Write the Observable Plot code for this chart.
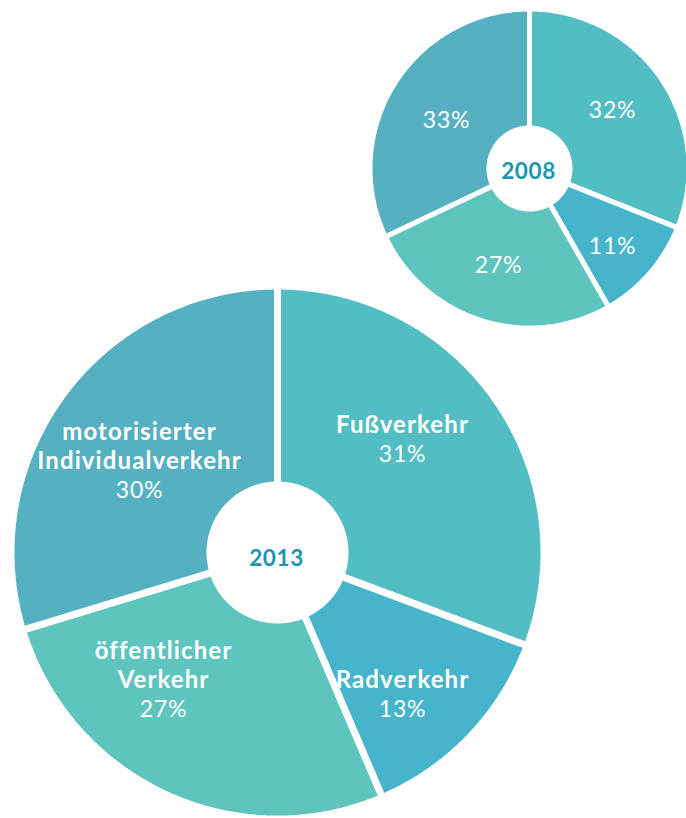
<!DOCTYPE html>
<html>
<head>
<meta charset="utf-8">
<script src="https://cdn.jsdelivr.net/npm/d3@7"></script>
<script src="https://cdn.jsdelivr.net/npm/@observablehq/plot@0.6"></script>
<style>
  html, body { margin: 0; padding: 0; background: #fff; }
  #chart svg { display: block; }
</style>
</head>
<body>
<div id="chart"></div>
<script>
// ---- data ----
const categories = ["Fußverkehr", "Radverkehr", "öffentlicher Verkehr", "motorisierter Individualverkehr"];
const labelNames = ["Fußverkehr", "Radverkehr", "öffentlicher\nVerkehr", "motorisierter\nIndividualverkehr"];
const years = ["2008", "2013"];
const values2008 = [32, 11, 27, 33];
const values2013 = [31, 13, 27, 30];
const colors = ["#52bec3", "#46b5cc", "#5ec4be", "#55b0c2"];

// ---- layout ----
const W = 686, H = 818;
const geo = {
  "2008": {cx: 529, cy: 168, r: 157 + 2.5, r0: 43 - 2.5, gap: 5, showNames: false,
           labels: [[612, 117], [612, 253], [498, 272], [446, 127]]},
  "2013": {cx: 277, cy: 552, r: 263 + 3.5, r0: 71 - 3.5, gap: 7, showNames: true,
           labels: [[402, 461], [402, 716], [163, 716], [139, 497]]}
};
const yearBaseline = {"2008": 178, "2013": 565};
const lineGap = 29;

function slicePoints(values, year) {
  const g = geo[year];
  const total = d3.sum(values);
  let acc = 0;
  const pts = [];
  values.forEach((v, i) => {
    const a0 = acc / total * 2 * Math.PI;
    acc += v;
    const a1 = acc / total * 2 * Math.PI;
    const n = Math.max(10, Math.ceil((a1 - a0) / (2 * Math.PI) * 360));
    for (let k = 0; k <= n; k++) {
      const a = a0 + (a1 - a0) * k / n;
      pts.push({id: year + "-" + i, cat: categories[i], x: g.cx + g.r * Math.sin(a), y: g.cy - g.r * Math.cos(a)});
    }
    for (let k = n; k >= 0; k--) {
      const a = a0 + (a1 - a0) * k / n;
      pts.push({id: year + "-" + i, cat: categories[i], x: g.cx + g.r0 * Math.sin(a), y: g.cy - g.r0 * Math.cos(a)});
    }
  });
  return pts;
}

const seriesByYear = {"2008": values2008, "2013": values2013};

const slices2008 = slicePoints(values2008, "2008");
const slices2013 = slicePoints(values2013, "2013");

const pctRows = [];
const nameRows = [];
years.forEach(year => {
  const g = geo[year];
  seriesByYear[year].forEach((v, i) => {
    const [lx, ly] = g.labels[i];
    pctRows.push({x: lx, y: ly, text: v + "%"});
    if (g.showNames) {
      const lines = labelNames[i].split("\n");
      lines.forEach((t, j) => {
        nameRows.push({x: lx, y: ly - lineGap * (lines.length - j), text: t});
      });
    }
  });
});
const yearRows = years.map(y => ({x: geo[y].cx - 1, y: yearBaseline[y], text: y}));

const font = "Lato, 'Open Sans', sans-serif";

const chart = Plot.plot({
  width: W,
  height: H,
  margin: 0,
  x: {domain: [0, W], range: [0, W], axis: null},
  y: {domain: [0, H], range: [0, H], axis: null},
  color: {domain: categories, range: colors},
  style: {background: "#fff", fontFamily: font},
  marks: [
    Plot.line(slices2008, {x: "x", y: "y", z: "id", fill: "cat", stroke: "white", strokeWidth: geo["2008"].gap, curve: "linear-closed", strokeLinejoin: "miter"}),
    Plot.line(slices2013, {x: "x", y: "y", z: "id", fill: "cat", stroke: "white", strokeWidth: geo["2013"].gap, curve: "linear-closed", strokeLinejoin: "miter"}),
    Plot.text(nameRows, {x: "x", y: "y", text: "text", fill: "white", fontSize: 24, fontWeight: "bold", lineAnchor: "bottom", fontFamily: font}),
    Plot.text(pctRows, {x: "x", y: "y", text: "text", fill: "white", fontSize: 23, fontWeight: "normal", lineAnchor: "bottom", fontFamily: font}),
    Plot.text(yearRows, {x: "x", y: "y", text: "text", fill: "#1a96b0", fontSize: 22.5, fontWeight: "bold", lineAnchor: "bottom", fontFamily: font})
  ]
});
// widen the letter spacing to match the reference typeface's wider set
chart.querySelectorAll('g[font-size="24"]').forEach(g => g.setAttribute("letter-spacing", "1.1"));
chart.querySelectorAll('g[font-size="23"]').forEach(g => g.setAttribute("letter-spacing", "0.8"));
chart.querySelectorAll('g[font-size="22.5"]').forEach(g => g.setAttribute("letter-spacing", "0.6"));
document.getElementById("chart").appendChild(chart);
</script>
</body>
</html>
